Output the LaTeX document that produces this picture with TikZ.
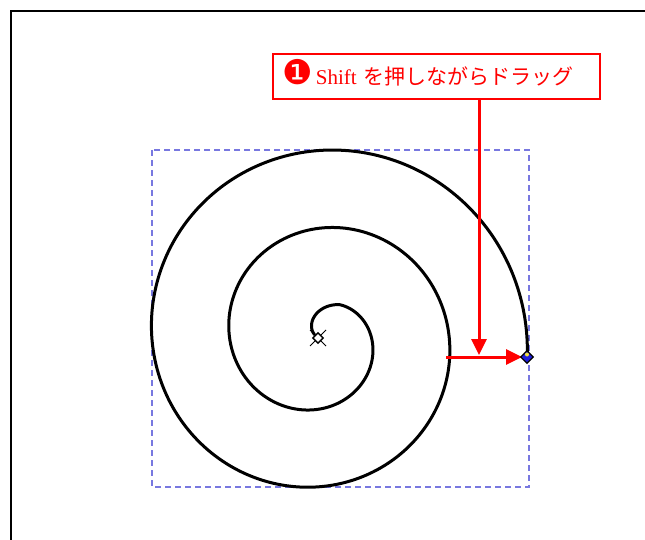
\documentclass[tikz,border=0pt]{standalone}
\usepackage{fontspec}
\setmainfont{Liberation Serif}
\newfontfamily\jpfont{Noto Sans CJK JP}
\newfontfamily\symfont{DejaVu Sans}
\usetikzlibrary{arrows.meta, shapes.geometric, positioning}
\definecolor{bboxblue}{HTML}{7878E0}
\definecolor{handleblue}{HTML}{1E1EDC}
\definecolor{handleyellow}{HTML}{F0E040}

\begin{document}
\begin{tikzpicture}[
      x=1pt, y=-1pt,
      frame/.style={line width=2.5pt, black},
      spiralline/.style={line width=3pt, black, line join=round, line cap=round},
      bbox/.style={draw=bboxblue, line width=1.2pt, dash pattern=on 6pt off 4pt},
      callout/.style={draw=red, line width=2.5pt, fill=white, text=red,
                      inner xsep=9pt, text width=309pt, align=left,
                      minimum height=45pt, font=\fontsize{21}{24}\selectfont},
      dragarrow/.style={draw=red, line width=3pt, -{Triangle[length=16pt, width=15pt]}},
      handle/.style={diamond, draw=black, fill=handleblue, line width=1.2pt,
                     inner sep=0pt, minimum size=13pt},
      knot/.style={diamond, draw=black, fill=white, line width=1.4pt,
                   inner sep=0pt, minimum size=11pt},
    ]
    \useasboundingbox (0,0) rectangle (645,540);

    % page border
    \draw[frame] (11,560) -- (11,11) -- (660,11);

    % selection box and spiral
    \draw[bbox] (152,150) rectangle (529,487);
    \draw[spiralline] plot[domain=-5:868, samples=400, smooth]
      ({320+(207-0.2159*\x-0.15*max(0,\x-780))*cos(\x)},
       {338-(207-0.2159*\x-0.15*max(0,\x-780))*sin(\x)});

    \coordinate (spiralend) at (527,357);
    \coordinate (spiralcenter) at (318,338);
    \coordinate (dragfrom) at (446,357);
    \coordinate (dragdown) at (479,355);

    % center knot
    \draw[line width=0.8pt] ([shift={(-8,-8)}]spiralcenter) -- ([shift={(8,8)}]spiralcenter);
    \draw[line width=0.8pt] ([shift={(-8,8)}]spiralcenter) -- ([shift={(8,-8)}]spiralcenter);
    \node[knot] (knot) at (spiralcenter) {};

    % callout
    \node[callout] (label) at (436.5,76.5)
      {\smash{\symfont\fontsize{34}{34}\selectfont ❶}\,Shift {\jpfont を押しながらドラッグ}};

    % drag arrows
    \draw[dragarrow] (label.south -| dragdown) -- (dragdown);
    \draw[dragarrow] (dragfrom) -- ([xshift=-5pt]spiralend);

    % end handle
    \node[handle] (handle) at (spiralend) {};
    \fill[handleyellow] ([yshift=2.5pt]handle.center) circle (2pt);
  \end{tikzpicture}
\end{document}
